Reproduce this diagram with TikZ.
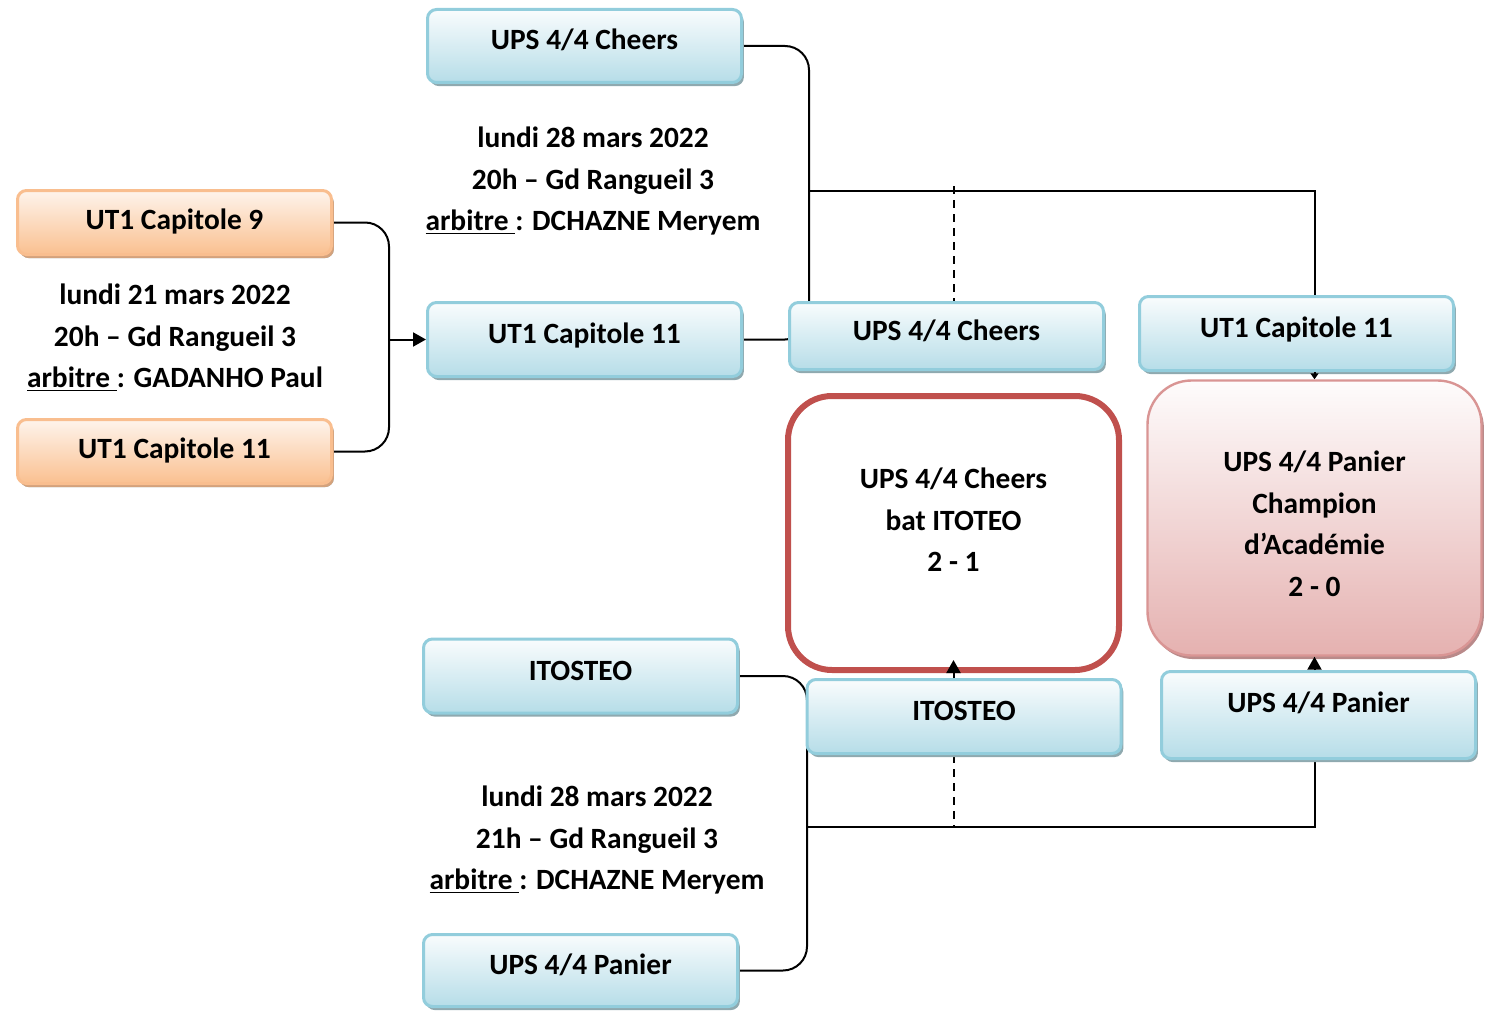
\documentclass[tikz,border=0pt]{standalone}
\usepackage{fontspec}
\setmainfont{Carlito}
\usetikzlibrary{arrows.meta,shadows,backgrounds}
\definecolor{bluetop}{HTML}{F9FCFD}
\definecolor{bluebot}{HTML}{B6DDE8}
\definecolor{blueline}{HTML}{92CDDC}
\definecolor{blueshade}{HTML}{8FA9AF}
\definecolor{orangetop}{HTML}{FEF4EC}
\definecolor{orangebot}{HTML}{FAC090}
\definecolor{orangeline}{HTML}{F9BE8F}
\definecolor{orangeshade}{HTML}{D4A27C}
\definecolor{pinktop}{HTML}{FEFCFC}
\definecolor{pinkbot}{HTML}{E5B1B0}
\definecolor{pinkline}{HTML}{D99594}
\definecolor{pinkshade}{HTML}{B98A8A}
\definecolor{resred}{HTML}{C0504D}
\begin{document}
\begin{tikzpicture}[x=0.5pt, y=-0.5pt, font=\bfseries\fontsize{14.7}{20.75}\selectfont,
  team/.style={draw=blueline, line width=1.5pt, rounded corners=4.5pt, top color=bluetop, bottom color=bluebot,
    minimum width=157pt, minimum height=37pt, text height=10pt, text depth=6pt,
    drop shadow={shadow xshift=1.2pt, shadow yshift=-1.8pt, fill=blueshade, opacity=1}},
  first/.style={team, draw=orangeline, top color=orangetop, bottom color=orangebot, minimum height=32pt,
    text depth=3pt, drop shadow={shadow xshift=1.2pt, shadow yshift=-1.8pt, fill=orangeshade, opacity=1}},
  result/.style={draw=resred, line width=3pt, rounded corners=22pt, fill=white, minimum width=165.5pt, minimum height=137pt},
  champion/.style={draw=pinkline, line width=1.2pt, rounded corners=22pt, top color=pinktop, bottom color=pinkbot,
    minimum width=167pt, minimum height=137.5pt,
    drop shadow={shadow xshift=1.2pt, shadow yshift=-1.8pt, fill=pinkshade, opacity=1}},
  info/.style={align=center, inner sep=0pt},
  link/.style={line width=1pt, rounded corners=12pt},
  dashln/.style={line width=1pt, dash pattern=on 4pt off 3pt},
  arr/.style={line width=1pt, -{Triangle[length=6.5pt, width=7pt]}},
  tinyarr/.style={line width=1pt, -{Triangle[length=3pt, width=4pt]}}]
  \useasboundingbox (0,0) rectangle (1489,1011);

  \node[first] (cap9) at (174.5,222.5) {UT1 Capitole 9};
  \node[first] (cap11a) at (174.5,451.5) {UT1 Capitole 11};
  \node[info] (match1) at (175,338) {lundi 21 mars 2022\\20h – Gd Rangueil 3\\\underline{arbitre\ }: GADANHO Paul};

  \node[team, minimum height=36.5pt] (cheersa) at (584.5,46) {UPS 4/4 Cheers};
  \node[team] (cap11b) at (584.5,339.5) {UT1 Capitole 11};
  \node[info] (match2) at (593,181) {lundi 28 mars 2022\\20h – Gd Rangueil 3\\\underline{arbitre\ }: DCHAZNE Meryem};

  \node[team] (itoa) at (580.5,676) {ITOSTEO};
  \node[team, minimum height=36pt] (paniera) at (580.5,970.5) {UPS 4/4 Panier};
  \node[info] (match3) at (597,840) {lundi 28 mars 2022\\21h – Gd Rangueil 3\\\underline{arbitre\ }: DCHAZNE Meryem};

  \node[team, minimum height=33.5pt] (cheersb) at (946.5,336) {UPS 4/4 Cheers};
  \node[team] (itob) at (964,716.5) {ITOSTEO};
  \node[result, label={[info, yshift=6.5pt]center:UPS 4/4 Cheers\\bat ITOTEO\\2 - 1}] (semi) at (953.5,533) {};

  \node[team] (cap11c) at (1296.5,333.5) {UT1 Capitole 11};
  \node[team, minimum height=43.5pt, text depth=13pt] (panierb) at (1318.5,715) {UPS 4/4 Panier};
  \node[champion, label={[info, yshift=-3pt]center:UPS 4/4 Panier\\Champion\\d’Académie\\2 - 0}] (champ) at (1314.5,518) {};

  \coordinate (j1) at (389,339.5);
  \coordinate (j2) at (809,191);
  \coordinate (j3) at (807,827);
  \coordinate (d1) at (953.5,186);

  \begin{pgfonlayer}{background}
    \draw[link] (cap9.east) -| (j1) |- (cap11a.east);
    \draw[link] (cheersa.east) -| (j2) |- (cap11b.east);
    \draw[link] (itoa.east) -| (j3) |- (paniera.east);
    \draw[line width=1pt] (j2) -| (cap11c.north -| champ.north);
    \draw[line width=1pt] (j3) -| (panierb.south -| champ.south);
    \draw[dashln] (d1) -- (d1 |- cheersb.north);
    \draw[dashln] (itob.south -| semi.south) -- (j3 -| semi.south);
  \end{pgfonlayer}

  \draw[arr] (j1) -- (cap11b.west);
  \draw[arr] (itob.north -| semi.south) -- ++(0,-18);
  \draw[arr] (panierb.north -| champ.south) -- (champ.south);
  \draw[tinyarr] (cap11c.south -| champ.north) -- (champ.north);
\end{tikzpicture}
\end{document}
